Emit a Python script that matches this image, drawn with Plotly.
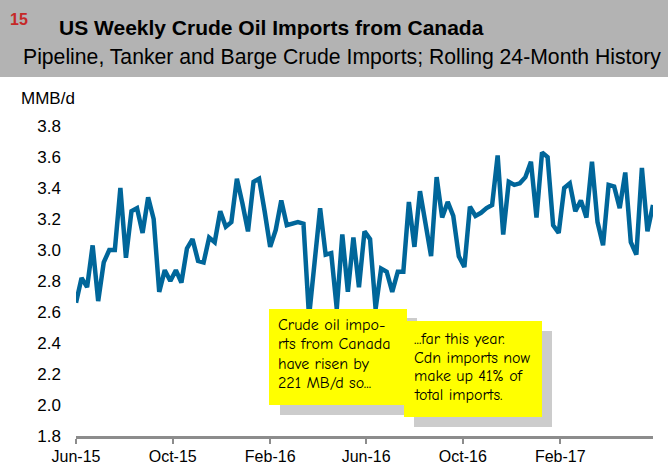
import pandas as pd
import plotly.graph_objects as go

# ---- data ----
imports_mmbd = [
    2.66, 2.82, 2.76, 3.03, 2.67, 2.92, 3.00, 3.00, 3.40, 2.95,
    3.25, 3.27, 3.11, 3.34, 3.20, 2.73, 2.87, 2.80, 2.87, 2.79,
    3.01, 3.07, 2.93, 2.92, 3.08, 3.05, 3.25, 3.15, 3.18, 3.46,
    3.30, 3.12, 3.44, 3.46, 3.25, 3.02, 3.13, 3.32, 3.16, 3.17,
    3.18, 3.17, 2.57, 2.92, 3.27, 2.97, 2.98, 2.62, 3.10, 2.73,
    3.08, 2.76, 3.12, 3.07, 2.62, 2.88, 2.86, 2.73, 2.86, 2.86,
    3.31, 3.02, 3.38, 3.17, 2.96, 3.47, 3.21, 3.31, 3.22, 2.96,
    2.89, 3.28, 3.22, 3.24, 3.27, 3.29, 3.61, 3.10, 3.44, 3.42,
    3.43, 3.47, 3.57, 3.21, 3.63, 3.60, 3.16, 3.11, 3.40, 3.43,
    3.25, 3.32, 3.21, 3.57, 3.18, 3.03, 3.42, 3.41, 3.27, 3.50,
    3.05, 2.97, 3.53, 3.12, 3.29,
]
week_dates = pd.date_range("2015-06-01", periods=len(imports_mmbd), freq="7D")

tick_dates = ["2015-06-01", "2015-10-01", "2016-02-01", "2016-06-01", "2016-10-01", "2017-02-01"]
tick_labels = ["Jun-15", "Oct-15", "Feb-16", "Jun-16", "Oct-16", "Feb-17"]

note_left_lines = ["Crude oil impo-", "rts from Canada", "have risen by", "221 MB/d so..."]
note_right_lines = ["...far this year.", "Cdn imports now", "make up 41% of", "total imports."]

# ---- layout geometry (pixels) ----
W, H = 668, 466
L, R, T, B = 76, 15, 126, 30
PW, PH = W - L - R, H - T - B


def px(x):
    return (x - L) / PW


def py(y):
    return (H - B - y) / PH


fig = go.Figure()
fig.add_trace(go.Scatter(
    x=week_dates, y=imports_mmbd, mode="lines",
    line=dict(color="#00669a", width=4.5),
    showlegend=False, hoverinfo="skip",
))

shapes = [
    # header band
    dict(type="rect", xref="paper", yref="paper", x0=px(0), x1=px(W), y0=py(77), y1=py(0),
         fillcolor="#b3b3b3", line=dict(width=0), layer="below"),
    # note boxes with shadows
    dict(type="rect", xref="paper", yref="paper", x0=px(280), x1=px(417), y0=py(415), y1=py(318),
         fillcolor="#cccccc", line=dict(width=0), layer="above"),
    dict(type="rect", xref="paper", yref="paper", x0=px(269), x1=px(407), y0=py(405), y1=py(309),
         fillcolor="#ffff00", line=dict(width=0), layer="above"),
    dict(type="rect", xref="paper", yref="paper", x0=px(414), x1=px(552), y0=py(427), y1=py(331),
         fillcolor="#cccccc", line=dict(width=0), layer="above"),
    dict(type="rect", xref="paper", yref="paper", x0=px(404), x1=px(542), y0=py(417), y1=py(321),
         fillcolor="#ffff00", line=dict(width=0), layer="above"),
]

sans = "Liberation Sans, Arial, sans-serif"
comic = "Comic Sans MS, Comic Neue, DejaVu Sans, sans-serif"

annotations = [
    dict(text="<b>15</b>", x=px(8), y=py(20), xref="paper", yref="paper",
         xanchor="left", yanchor="middle", showarrow=False,
         font=dict(family=sans, size=16, color="#c62828")),
    dict(text="<b>US Weekly Crude Oil Imports from Canada</b>", x=px(271), y=py(27),
         xref="paper", yref="paper", xanchor="center", yanchor="middle", showarrow=False,
         font=dict(family=sans, size=21, color="#000000")),
    dict(text="Pipeline, Tanker and Barge Crude Imports; Rolling 24-Month History",
         x=px(21), y=py(57), xref="paper", yref="paper", xanchor="left", yanchor="middle",
         showarrow=False, font=dict(family=sans, size=21.2, color="#000000")),
    dict(text="MMB/d", x=px(19), y=py(98), xref="paper", yref="paper",
         xanchor="left", yanchor="middle", showarrow=False,
         font=dict(family=sans, size=17, color="#000000")),
]
for i, line in enumerate(note_left_lines):
    annotations.append(dict(text=line, x=px(276), y=py(325 + 19.3 * i), xref="paper", yref="paper",
                            xanchor="left", yanchor="middle", showarrow=False,
                            font=dict(family=comic, size=16, color="#000000")))
for i, line in enumerate(note_right_lines):
    annotations.append(dict(text=line, x=px(412), y=py(339 + 18.7 * i), xref="paper", yref="paper",
                            xanchor="left", yanchor="middle", showarrow=False,
                            font=dict(family=comic, size=16, color="#000000")))

fig.update_layout(
    width=W, height=H, autosize=False,
    margin=dict(l=L, r=R, t=T, b=B, pad=0),
    paper_bgcolor="white", plot_bgcolor="white",
    shapes=shapes, annotations=annotations,
    xaxis=dict(
        type="date", range=[week_dates[0], week_dates[-1]],
        tickvals=tick_dates, ticktext=tick_labels,
        showgrid=False, zeroline=False, automargin=False,
        showline=True, linecolor="#8c8c8c", linewidth=3,
        ticks="outside", ticklen=5, tickwidth=2, tickcolor="#8c8c8c",
        tickfont=dict(family=sans, size=16, color="#000000"),
        ticklabelstandoff=-1,
    ),
    yaxis=dict(
        range=[1.8, 3.8], dtick=0.2, tickformat=".1f",
        showgrid=False, zeroline=False, showline=False, automargin=False,
        tickfont=dict(family=sans, size=17, color="#000000"),
        ticklabelstandoff=14,
    ),
)

fig.write_html(
    "out.html",
    config={"displayModeBar": False},
    post_script="document.body.style.margin='0';document.body.style.overflow='hidden';",
)
